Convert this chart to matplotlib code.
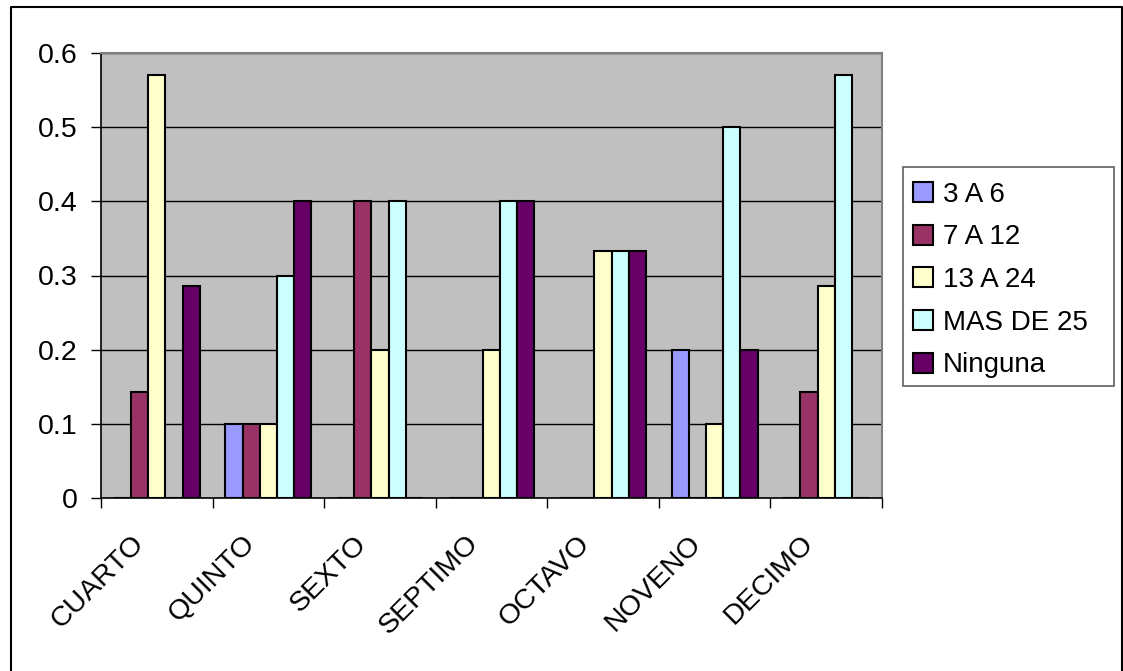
import matplotlib
matplotlib.use('Agg')
import matplotlib.pyplot as plt
from matplotlib.lines import Line2D
from matplotlib.patches import Rectangle
import matplotlib.transforms as mtransforms
import numpy as np

plt.rcParams['font.family'] = ['Liberation Sans', 'DejaVu Sans']

# ── Data ──────────────────────────────────────────────────────────────────────
grados = ['CUARTO', 'QUINTO', 'SEXTO', 'SEPTIMO', 'OCTAVO', 'NOVENO', 'DECIMO']
series = ['3 A 6', '7 A 12', '13 A 24', 'MAS DE 25', 'Ninguna']

v_3a6 = [0, 0.1, 0, 0, 0, 0.2, 0]
v_7a12 = [0.143, 0.1, 0.4, 0, 0, 0, 0.143]
v_13a24 = [0.571, 0.1, 0.2, 0.2, 0.333, 0.1, 0.286]
v_mas25 = [0, 0.3, 0.4, 0.4, 0.333, 0.5, 0.571]
v_ninguna = [0.286, 0.4, 0, 0.4, 0.333, 0.2, 0]

colores = ['#9999FF', '#993366', '#FFFFCC', '#CCFFFF', '#660066']
valores = [v_3a6, v_7a12, v_13a24, v_mas25, v_ninguna]

# ── Figure ────────────────────────────────────────────────────────────────────
W, H = 1123, 671
fig = plt.figure(figsize=(W / 100, H / 100), dpi=100)
fig.patch.set_facecolor('white')

# plot area in pixel coordinates
L, R, T, B = 101, 882, 53, 498
ax = fig.add_axes([L / W, 1 - B / H, (R - L) / W, (B - T) / H])
ax.set_facecolor('#C0C0C0')

n = len(series)
bw = 1 / (n + 1.5)
x = np.arange(len(grados))
for i, (vals, col, lab) in enumerate(zip(valores, colores, series)):
    off = (i - (n - 1) / 2) * bw
    ax.bar(x + 0.5 + off, vals, width=bw, color=col, edgecolor='black',
           linewidth=1.5, label=lab, zorder=3)

ax.set_xlim(0, len(grados))
ax.set_ylim(0, 0.6)
ax.set_yticks([0, 0.1, 0.2, 0.3, 0.4, 0.5, 0.6])
ax.set_yticklabels(['0', '0.1', '0.2', '0.3', '0.4', '0.5', '0.6'])
ax.yaxis.grid(True, color='black', linewidth=1.0, zorder=1)
ax.set_axisbelow(True)

# category ticks on boundaries, labels at centres
ax.set_xticks(np.arange(len(grados) + 1))
ax.set_xticklabels([])
ax.set_xticks(x + 0.5, minor=True)
ax.set_xticklabels(grados, minor=True, rotation=45, ha='right', va='center',
                   rotation_mode='anchor', fontsize=20.5)
ax.tick_params(axis='x', which='minor', length=0, pad=30)
ax.tick_params(axis='x', which='major', direction='out', length=7, width=1,
               color='black')
ax.tick_params(axis='y', direction='out', length=7, width=1, labelsize=20.5,
               pad=10)
shift = mtransforms.ScaledTranslation(-17 / 100, 0, fig.dpi_scale_trans)
for lbl in ax.get_xticklabels(minor=True):
    lbl.set_transform(lbl.get_transform() + shift)

for s in ['top', 'right']:
    ax.spines[s].set_color('#808080')
    ax.spines[s].set_linewidth(1.5)
for s in ['left', 'bottom']:
    ax.spines[s].set_color('black')
    ax.spines[s].set_linewidth(1.2)

# ── Legend ────────────────────────────────────────────────────────────────────
fig.add_artist(Rectangle((903 / W, 1 - 386 / H), 211 / W, 219 / H,
                         transform=fig.transFigure, facecolor='white',
                         edgecolor='#606060', linewidth=1.2, zorder=4))
handles = [Line2D([0], [0], marker='s', linestyle='none', markersize=14.5,
                  markerfacecolor=c, markeredgecolor='black',
                  markeredgewidth=1.5) for c in colores]
leg = fig.legend(handles, series, loc='upper left',
                 bbox_to_anchor=(907 / W, 1 - 176 / H), fontsize=20,
                 frameon=False, handlelength=0.75, handletextpad=0.33,
                 labelspacing=0.6, borderpad=0.2, borderaxespad=0)
leg.set_zorder(5)

# ── Chart border ──────────────────────────────────────────────────────────────
bx = [11 / W, 11 / W, 1122 / W, 1122 / W]
by = [0, 1 - 7 / H, 1 - 7 / H, 0]
fig.add_artist(Line2D(bx, by, color='black', linewidth=1.5,
                      transform=fig.transFigure))

fig.savefig('out.png', dpi=100, facecolor='white')
